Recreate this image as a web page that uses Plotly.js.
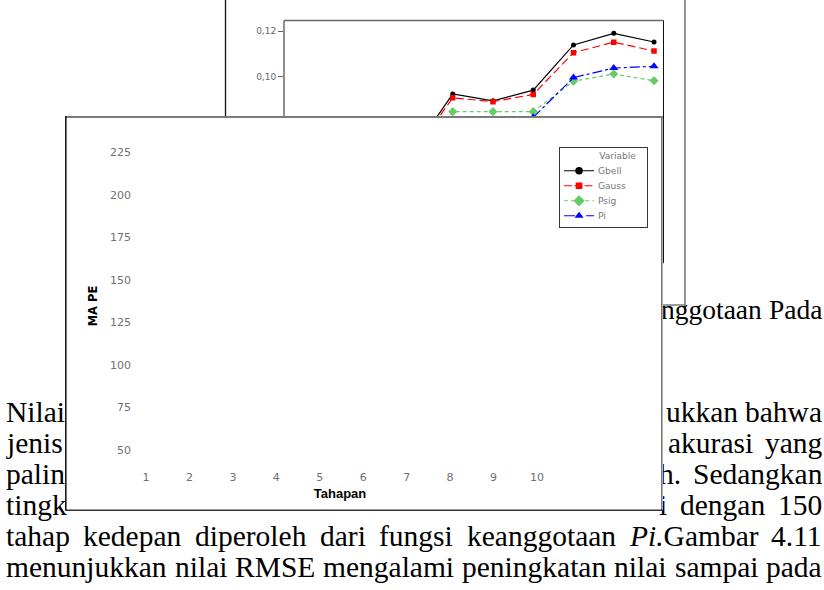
<!DOCTYPE html>
<html>
<head>
<meta charset="utf-8">
<script src="https://cdn.plot.ly/plotly-3.0.1.min.js"></script>
<style>
  html, body { margin: 0; padding: 0; background: #fff; }
  #page { position: relative; width: 824px; height: 590px; overflow: hidden; background: #fff; }
  #rmse { position: absolute; left: 0; top: 0; width: 824px; height: 590px; }
  #mape { position: absolute; left: 65px; top: 116px; width: 598px; height: 395px; }
</style>
</head>
<body>
<div id="page">
  <div id="rmse"></div>
  <div id="mape"></div>
</div>
<script>
// ---- data ----
const tahapan = [1, 2, 3, 4, 5, 6, 7, 8, 9, 10];
const seriesNames = ['Gbell', 'Gauss', 'Psig', 'Pi'];

// RMSE per membership function (stages 1-3 and part of Pi lie under the MAPE panel)
const rmseGbell = [null, null, null, 0.0667, 0.0924, 0.0894, 0.0941, 0.1140, 0.1191, 0.1153];
const rmseGauss = [null, null, null, 0.0660, 0.0907, 0.0890, 0.0922, 0.1106, 0.1152, 0.1113];
const rmsePsig  = [null, null, null, 0.0610, 0.0846, 0.0846, 0.0846, 0.0980, 0.1012, 0.0982];
const rmsePi    = [null, null, null, null,   null,   null,   0.0821, 0.0996, 0.1038, 0.1046];
const rmseValues = [rmseGbell, rmseGauss, rmsePsig, rmsePi];

// MAPE panel: no line was printed, only its axes and legend
const mapeGbell = [null, null, null, null, null, null, null, null, null, null];
const mapeGauss = [null, null, null, null, null, null, null, null, null, null];
const mapePsig  = [null, null, null, null, null, null, null, null, null, null];
const mapePi    = [null, null, null, null, null, null, null, null, null, null];
const mapeValues = [mapeGbell, mapeGauss, mapePsig, mapePi];
const mapeTicks = [50, 75, 100, 125, 150, 175, 200, 225];

// paragraph text around the figures
const captionWords = ['nggotaan', 'Pada'];
const leftWords = ['Nilai', 'jenis', 'palin', 'tingk'];
const rightWords = [['ukkan', 'bahwa'], ['akurasi', 'yang'], ['h.', 'Sedangkan'], ['i', 'dengan', '150']];
const fullLines = [
  ['tahap', 'kedepan', 'diperoleh', 'dari', 'fungsi', 'keanggotaan', '<i>Pi.</i>Gambar', '4.11'],
  ['menunjukkan', 'nilai', 'RMSE', 'mengalami', 'peningkatan', 'nilai', 'sampai', 'pada']
];

// ---- styles ----
const styles = {
  Gbell: { color: '#000000', dash: 'solid',            legendDash: 'solid',            symbol: 'circle',      size: 5,   legendSize: 9.5 },
  Gauss: { color: '#ff0000', dash: '8px,4px',          legendDash: '10px,3px',         symbol: 'square',      size: 5.5, legendSize: 8.5 },
  Psig:  { color: '#66cc66', dash: '4px,3px',          legendDash: '5px,4px',          symbol: 'diamond',     size: 7,   legendSize: 11 },
  Pi:    { color: '#0000ff', dash: '10px,3px,3px,3px', legendDash: '14px,5px,4px,5px', symbol: 'triangle-up', size: 8,   legendSize: 10 }
};

const W = 824, H = 590;
const gx = px => px / W;
const gy = py => 1 - py / H;

// ---- text layout (justified words) ----
const FS = 29.5;
const SERIF = '"Liberation Serif", "Times New Roman", serif';
const ctx = document.createElement('canvas').getContext('2d');
function measure(html, fs) {
  let total = 0;
  html.split(/(<i>.*?<\/i>)/).forEach(seg => {
    if (!seg) return;
    const it = seg.startsWith('<i>');
    ctx.font = (it ? 'italic ' : '') + fs + 'px ' + SERIF;
    total += ctx.measureText(seg.replace(/<\/?i>/g, '')).width;
  });
  return total;
}
function wordNote(text, x, base, fs) {
  return {
    text: text, xref: 'paper', yref: 'paper', x: gx(x), y: gy(base - fs * 0.3375),
    xanchor: 'left', yanchor: 'middle', showarrow: false,
    borderpad: 0, borderwidth: 0,
    font: { family: SERIF, size: fs, color: '#000' }
  };
}
function justified(words, x0, x1, base, fs) {
  fs = fs || FS;
  const ws = words.map(w => measure(w, fs));
  const sum = ws.reduce((a, b) => a + b, 0);
  const gap = words.length > 1 ? (x1 - x0 - sum) / (words.length - 1) : 0;
  let x = x0;
  return words.map((wd, i) => { const a = wordNote(wd, x, base, fs); x += ws[i] + gap; return a; });
}
function natural(words, x1, base) {
  const space = measure(' ', FS);
  const total = words.map(w => measure(w, FS)).reduce((a, b) => a + b, 0) + space * (words.length - 1);
  return justified(words, x1 - total, x1, base);
}

const baselines = [422, 453, 484, 515, 546, 577];
const rightStarts = [658, 668, 659, 659];
let notes = [];
notes = notes.concat(justified(captionWords, 661, 822, 319, 27.5));
leftWords.forEach((wd, i) => notes.push(wordNote(wd, 6, baselines[i], FS)));
rightWords.forEach((ws, i) => {
  notes = notes.concat(i === 0 ? natural(ws, 822, baselines[i]) : justified(ws, rightStarts[i], 822, baselines[i]));
});
fullLines.forEach((ws, i) => { notes = notes.concat(justified(ws, 6, 822, baselines[4 + i])); });

// ---- RMSE chart (behind) ----
const rmseTraces = seriesNames.map((n, i) => ({
  type: 'scatter', mode: 'lines+markers', name: n, x: tahapan, y: rmseValues[i],
  showlegend: false, cliponaxis: true,
  line: { color: styles[n].color, width: 1.2, dash: styles[n].dash },
  marker: { symbol: styles[n].symbol, size: styles[n].size, color: styles[n].color }
}));

function gline(x0, y0, x1, y1, color, width) {
  return { type: 'line', xref: 'paper', yref: 'paper', x0: gx(x0), y0: gy(y0), x1: gx(x1), y1: gy(y1),
           line: { color: color, width: width }, layer: 'above' };
}

const rmseLayout = {
  width: W, height: H,
  margin: { l: 0, r: 0, t: 0, b: 0, autoexpand: false },
  paper_bgcolor: '#ffffff', plot_bgcolor: 'rgba(0,0,0,0)',
  separators: ',.',
  showlegend: false,
  xaxis: {
    domain: [gx(284), gx(663)], range: [0.809, 10.223], tickvals: tahapan,
    ticks: 'outside', ticklen: 5, tickcolor: '#666', showgrid: false, zeroline: false, showline: false,
    tickfont: { family: 'DejaVu Sans', size: 9, color: '#666' }
  },
  yaxis: {
    domain: [gy(263), gy(20.5)], range: [0.01793, 0.12476], tick0: 0, dtick: 0.02, tickformat: '.2f',
    ticks: 'outside', ticklen: 5, tickcolor: '#666', showgrid: false, zeroline: false, showline: false,
    tickfont: { family: 'DejaVu Sans', size: 9, color: '#666' }
  },
  shapes: [
    gline(284, 20.5, 663.5, 20.5, '#6a6a6a', 1.5),
    gline(284, 20.5, 284, 263, '#6a6a6a', 1.5),
    gline(663.5, 20.5, 663.5, 263, '#111111', 1),
    gline(284, 263, 663.5, 263, '#6a6a6a', 1.5),
    gline(225.5, -5, 225.5, 305, '#111111', 1.3),
    gline(685, -5, 685, 305, '#7a7a7a', 1.6),
    gline(225.5, 305, 685, 305, '#7a7a7a', 1.6)
  ],
  annotations: notes
};

// ---- MAPE chart (front panel) ----
const PL = 70, PR = 480, PT = 35, PB = 345;   // plot area inside the panel, px
const lx = px => (px - PL) / (PR - PL);
const ly = py => (PB - py) / (PB - PT);
function lline(x0, y0, x1, y1, color, width) {
  return { type: 'line', xref: 'paper', yref: 'paper', x0: lx(x0), y0: ly(y0), x1: lx(x1), y1: ly(y1),
           line: { color: color, width: width }, layer: 'above' };
}

const mapeTraces = seriesNames.map((n, i) => ({
  type: 'scatter', mode: 'lines+markers', name: n, x: tahapan, y: mapeValues[i],
  line: { color: styles[n].color, width: 1.3, dash: styles[n].legendDash },
  marker: { symbol: styles[n].symbol, size: styles[n].legendSize, color: styles[n].color }
}));

const tickFont = { family: 'DejaVu Sans', size: 11, color: '#707070' };
const mapeLayout = {
  width: 598, height: 395,
  margin: { l: PL, r: 598 - PR, t: PT, b: 395 - PB, autoexpand: false },
  paper_bgcolor: '#ffffff', plot_bgcolor: '#ffffff',
  xaxis: {
    range: [0.7468, 10.185], tickvals: tahapan, ticks: '', showgrid: false, zeroline: false, showline: false,
    tickfont: tickFont, ticklabelstandoff: 8,
    title: { text: 'Tahapan', standoff: 5, font: { family: 'Liberation Sans', size: 13, color: '#000', weight: 'bold' } }
  },
  yaxis: {
    range: [43.53, 225.76], tickvals: mapeTicks, ticks: '', showgrid: false, zeroline: false, showline: false,
    tickfont: tickFont, ticklabelstandoff: 3,
    title: { text: 'MA PE', standoff: 9, font: { family: 'DejaVu Sans', size: 11.5, color: '#000', weight: 'bold' } }
  },
  showlegend: true,
  legend: {
    x: lx(494.3), y: ly(30.7), xanchor: 'left', yanchor: 'top',
    bgcolor: '#ffffff', bordercolor: '#000000', borderwidth: 1,
    font: { family: 'DejaVu Sans', size: 11.5, color: '#777' },
    itemwidth: 38, tracegroupgap: 0,
    title: { text: '&nbsp;'.repeat(13) + 'Variable&nbsp;&nbsp;&nbsp;', font: { family: 'DejaVu Sans', size: 11.5, color: '#777' } }
  },
  shapes: [
    lline(0, 1, 598, 1, '#7a7a7a', 2),
    lline(0.8, 0, 0.8, 395, '#1a1a1a', 1.6),
    lline(596.8, 0, 596.8, 395, '#7a7a7a', 1.6),
    lline(0, 394.2, 598, 394.2, '#333333', 1.6)
  ]
};

const config = { staticPlot: true, displayModeBar: false };
Plotly.newPlot('rmse', rmseTraces, rmseLayout, config);
Plotly.newPlot('mape', mapeTraces, mapeLayout, config).then(gd => {
  // compact legend rows: shrink the legend group about its top-left corner
  const lg = gd.querySelector('g.legend');
  if (lg) lg.setAttribute('transform', lg.getAttribute('transform') + ' scale(0.79)');
});
</script>
</body>
</html>
